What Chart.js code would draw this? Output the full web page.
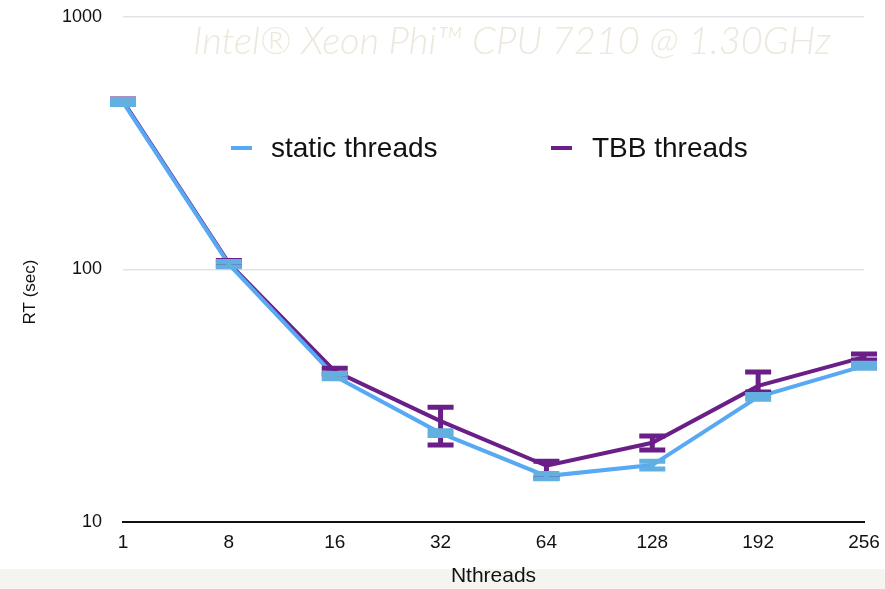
<!DOCTYPE html>
<html>
<head>
<meta charset="utf-8">
<script src="https://cdn.jsdelivr.net/npm/chart.js@4/dist/chart.umd.min.js"></script>
<style>
  html, body { margin: 0; padding: 0; background: #ffffff; }
  #wrap { width: 885px; height: 589px; position: relative; }
</style>
</head>
<body>
<div id="wrap"><canvas id="c" width="885" height="589"></canvas></div>
<script>
// Thread counts along the x axis
const threadLabels = ['1', '8', '16', '32', '64', '128', '192', '256'];

// Run time (seconds), static scheduling
const staticRT   = [460, 105, 37.8, 22.5, 15.2, 16.8, 31.3, 41.5];
const staticLow  = [450, 102.6, 36.9, 22.0, 14.85, 16.2, 30.6, 40.6];
const staticHigh = [471, 107.5, 38.7, 23.0, 15.55, 17.4, 32.0, 42.5];

// Run time (seconds), TBB scheduling
const tbbRT   = [464, 106, 39.6, 25.1, 16.7, 20.6, 34.6, 45.0];
const tbbLow  = [452, 103.5, 38.6, 20.2, 14.9, 19.3, 32.7, 43.8];
const tbbHigh = [473, 108.5, 40.6, 28.5, 17.4, 21.9, 39.3, 46.3];

// Log-axis ticks
const rtTicks = [10, 100, 1000];

const chartTitle = 'Intel\u00AE Xeon Phi\u2122 CPU 7210 @ 1.30GHz';
const yTitle = 'RT (sec)';
const xTitle = 'Nthreads';

const BLUE_LINE = '#57a9f4';
const BLUE_CAP = '#62b0df';
const PURPLE = '#6a1e87';
const SANS = '"Liberation Sans", Arial, Helvetica, sans-serif';

// Light band behind the x-axis title
const bandPlugin = {
  id: 'band',
  beforeDraw(chart) {
    const ctx = chart.ctx;
    ctx.save();
    ctx.fillStyle = '#ffffff';
    ctx.fillRect(0, 0, chart.width, chart.height);
    ctx.fillStyle = '#f5f4f0';
    ctx.fillRect(0, 569, chart.width, chart.height - 569);
    ctx.restore();
  }
};

// Min/max whiskers for each dataset
const errorBarPlugin = {
  id: 'errorBars',
  afterDatasetsDraw(chart) {
    const ctx = chart.ctx;
    const xs = chart.scales.x, ys = chart.scales.y;
    const order = [1, 0];
    ctx.save();
    order.forEach(di => {
      const ds = chart.data.datasets[di];
      ctx.strokeStyle = ds.capColor;
      ds.low.forEach((lo, i) => {
        const x = xs.getPixelForValue(i);
        const yl = ys.getPixelForValue(lo);
        const yh = ys.getPixelForValue(ds.high[i]);
        const half = 13;
        ctx.lineWidth = 5;
        ctx.beginPath();
        ctx.moveTo(x, yl); ctx.lineTo(x, yh);
        ctx.stroke();
        ctx.beginPath();
        ctx.moveTo(x - half, yl); ctx.lineTo(x + half, yl);
        ctx.moveTo(x - half, yh); ctx.lineTo(x + half, yh);
        ctx.stroke();
      });
    });
    ctx.restore();
  }
};

// Overlay texts: watermark title, legend, rotated y title
const overlayPlugin = {
  id: 'overlay',
  afterDraw(chart) {
    const ctx = chart.ctx;
    ctx.save();
    // title
    ctx.fillStyle = '#ece9dc';
    ctx.font = 'italic 300 38px Lato, "Open Sans", sans-serif';
    ctx.textBaseline = 'middle';
    ctx.textAlign = 'left';
    ctx.fillText(chartTitle, 193, 42);

    // legend
    const items = [
      { ds: chart.data.datasets[0], lx: 231, tx: 271 },
      { ds: chart.data.datasets[1], lx: 551, tx: 592 }
    ];
    ctx.font = '28px ' + SANS;
    items.forEach(it => {
      ctx.strokeStyle = it.ds.borderColor;
      ctx.lineWidth = 4;
      ctx.beginPath();
      ctx.moveTo(it.lx, 148); ctx.lineTo(it.lx + 21, 148);
      ctx.stroke();
      ctx.fillStyle = '#111111';
      ctx.fillText(it.ds.label, it.tx, 149);
    });

    // y-axis title
    ctx.translate(30, 292);
    ctx.rotate(-Math.PI / 2);
    ctx.textAlign = 'center';
    ctx.font = '17px ' + SANS;
    ctx.fillStyle = '#111111';
    ctx.fillText(yTitle, 0, 0);
    ctx.restore();
  }
};

new Chart(document.getElementById('c'), {
  type: 'line',
  data: {
    labels: threadLabels,
    datasets: [
      {
        label: 'static threads',
        data: staticRT,
        low: staticLow,
        high: staticHigh,
        borderColor: BLUE_LINE,
        capColor: BLUE_CAP,
        borderWidth: 4,
        pointRadius: 0,
        tension: 0
      },
      {
        label: 'TBB threads',
        data: tbbRT,
        low: tbbLow,
        high: tbbHigh,
        borderColor: PURPLE,
        capColor: PURPLE,
        borderWidth: 4,
        pointRadius: 0,
        tension: 0
      }
    ]
  },
  options: {
    responsive: false,
    animation: false,
    layout: { padding: { top: 17, right: 21, left: 0, bottom: 0 } },
    plugins: {
      legend: { display: false },
      tooltip: { enabled: false }
    },
    scales: {
      x: {
        type: 'category',
        offset: false,
        grid: { display: false, drawTicks: false },
        border: { display: true, color: '#111111', width: 2 },
        ticks: { color: '#111111', font: { family: SANS, size: 19 }, padding: 9, maxRotation: 0, autoSkip: false },
        title: { display: true, text: xTitle, color: '#111111', font: { family: SANS, size: 21 }, padding: { top: 0, bottom: 0 } },
        afterFit(scale) {
          scale.height = 67;
          scale.paddingLeft = 0;
          scale.paddingRight = 0;
        }
      },
      y: {
        type: 'logarithmic',
        min: 10,
        max: 1000,
        afterBuildTicks(scale) { scale.ticks = rtTicks.map(v => ({ value: v })); },
        grid: {
          drawTicks: false,
          color: ctx => (ctx.tick && ctx.tick.value === 10 ? 'rgba(0,0,0,0)' : '#e3e3e3'),
          lineWidth: 1.5
        },
        border: { display: false },
        ticks: {
          color: '#111111',
          font: { family: SANS, size: 18 },
          padding: 21,
          callback: v => String(v)
        },
        afterFit(scale) {
          scale.width = 123;
          scale.paddingTop = 0;
          scale.paddingBottom = 0;
        }
      }
    }
  },
  plugins: [bandPlugin, errorBarPlugin, overlayPlugin]
});
</script>
</body>
</html>
